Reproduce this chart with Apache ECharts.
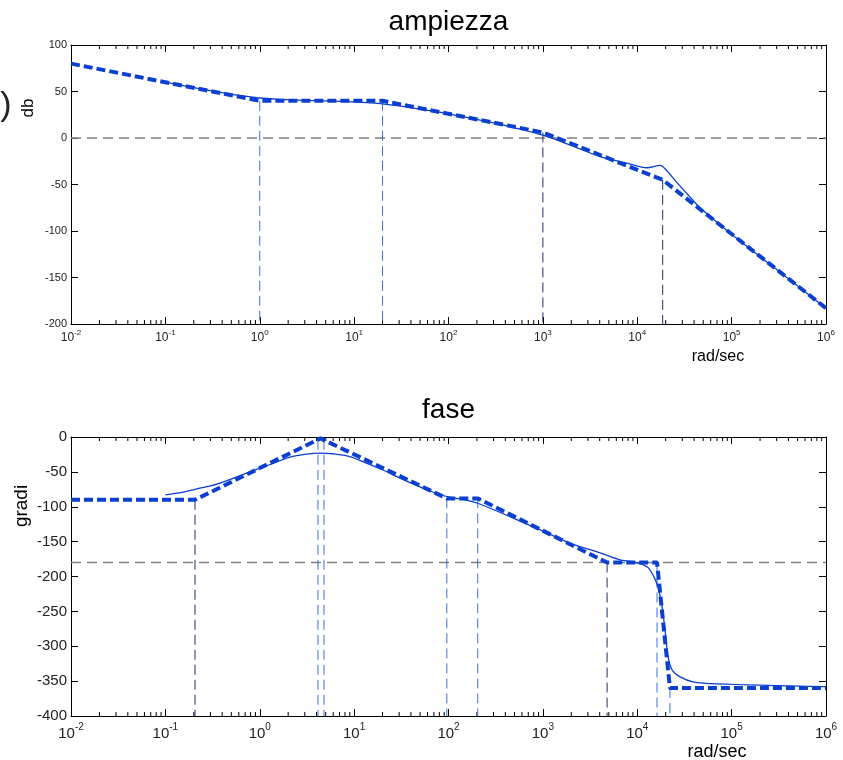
<!DOCTYPE html>
<html><head><meta charset="utf-8">
<script src="https://cdn.jsdelivr.net/npm/echarts@6/dist/echarts.min.js"></script>
<style>html,body{margin:0;padding:0;background:#fff}#c{width:843px;height:760px}</style>
</head><body><div id="c"></div>
<script>
// ---- data ----
const freqRange = [0.01, 1e6];
const magRange = [-200, 100];
const phaseRange = [-400, 0];

const magAsymW  = [0.01, 1, 20, 1000, 1.86e4, 1e6];
const magAsymDb = [80, 40, 40, 6, -45, -183];

const magW  = [0.1, 0.2, 0.5, 0.7, 1, 1.5, 3, 5, 10, 15, 20, 30, 60, 100, 300, 500, 1000, 2000, 4030, 7780, 1.27e4, 1.75e4, 1.97e4, 2.64e4, 3.89e4, 4.62e4, 1e5, 3e5, 1e6];
const magDb = [60, 54.1, 47, 45, 43, 41.8, 40.4, 40, 38.8, 37.8, 36.8, 34.5, 29.8, 26, 16.3, 11, 3, -8, -20, -27, -32, -29.5, -33, -48, -67, -75, -103.5, -141.5, -183];

const phaseAsymW   = [0.01, 0.206, 4.4, 96, 204, 4790, 1.62e4, 2.22e4, 1e6];
const phaseAsymDeg = [-90, -90, -2, -88, -88, -180, -180, -360, -360];

const phaseW   = [0.1, 0.15, 0.206, 0.3, 0.38, 0.6, 1, 1.5, 2.09, 3, 4.35, 6, 9, 15, 20, 30.6, 60, 100, 150, 204, 500, 1000, 2000, 4030, 6560, 9010, 1.27e4, 1.47e4, 1.66e4, 1.83e4, 1.97e4, 2.12e4, 2.34e4, 2.84e4, 3.9e4, 7e4, 1e6];
const phaseDeg = [-83, -79.5, -75, -70, -66, -56, -45, -36, -29, -25, -23, -24, -28, -40, -47, -59, -76, -86, -90, -95, -117, -135, -153, -166, -176, -179, -186, -198, -215, -243, -277, -315, -334, -344, -351, -354, -358];

const magGuideW  = [1, 20, 1000, 1.86e4];
const magGuideDb = [40, 40, 6, -45];
const magRef = 0;

const phaseGuideW   = [0.206, 4.14, 4.79, 96, 204, 4790, 1.62e4, 2.22e4];
const phaseGuideDeg = [-90, -4, -4, -88, -88, -180, -180, -360];
const phaseRef = -180;

// ---- styles ----
const BLUE = '#0b3fd0';
const GUIDE_LIGHT = '#3f6fe0';
const GUIDE_DARK = '#1c2e70';
const FONT = 'Liberation Sans, Arial, sans-serif';
const magDarkIdx = [2, 3];
const phaseDarkIdx = [0, 5];

const minorW = [];
for (let e = -2; e < 6; e++) for (let k = 2; k <= 9; k++) minorW.push(k * Math.pow(10, e));

function pairs(xs, ys) { return xs.map((x, i) => [x, ys[i]]); }

function xAx(gi, pos, fs, sfs, pad, margin) {
  return {
    type: 'log', logBase: 10, gridIndex: gi, position: pos,
    min: freqRange[0], max: freqRange[1], interval: 1,
    axisLine: { show: true, onZero: false, lineStyle: { color: '#000', width: 1 } },
    axisTick: { show: true, inside: true, length: 7, lineStyle: { color: '#000' } },
    axisLabel: {
      show: pos === 'bottom', margin: margin,
      formatter: v => '{b|10}{s|' + Math.round(Math.log10(v)) + '}',
      rich: {
        b: { fontSize: fs, fontFamily: FONT, color: '#222', padding: [pad, 0, 0, 0], verticalAlign: 'bottom' },
        s: { fontSize: sfs, fontFamily: FONT, color: '#222', verticalAlign: 'top' }
      }
    },
    splitLine: { show: false }
  };
}
function yAx(gi, pos, range, fs) {
  return {
    type: 'value', gridIndex: gi, position: pos, min: range[0], max: range[1], interval: 50,
    axisLine: { show: true, onZero: false, lineStyle: { color: '#000', width: 1 } },
    axisTick: { show: true, inside: true, length: 7, lineStyle: { color: '#000' } },
    axisLabel: { show: pos === 'left', margin: 4, fontSize: fs, fontFamily: FONT, color: '#222' },
    splitLine: { show: false }
  };
}

function lineSeries(xi, yi, data, style, z, smooth) {
  return { type: 'line', xAxisIndex: xi, yAxisIndex: yi, data: data, showSymbol: false, symbol: 'none',
    lineStyle: style, z: z, silent: true, animation: false, smooth: smooth || false };
}

function minorTicks(xi, yi, range) {
  return {
    type: 'custom', xAxisIndex: xi, yAxisIndex: yi, silent: true, animation: false, z: 1,
    data: minorW.map(w => [w, range[0]]),
    renderItem: function (params, api) {
      const v = api.value(0);
      const b = api.coord([v, range[0]]);
      const t = api.coord([v, range[1]]);
      const st = { stroke: '#000', lineWidth: 1 };
      return { type: 'group', children: [
        { type: 'line', shape: { x1: b[0], y1: b[1], x2: b[0], y2: b[1] - 4 }, style: st },
        { type: 'line', shape: { x1: t[0], y1: t[1], x2: t[0], y2: t[1] + 4 }, style: st }
      ] };
    }
  };
}

const series = [];
series.push(lineSeries(0, 0, [[freqRange[0], magRef], [freqRange[1], magRef]], { color: '#808080', width: 1.5, type: [10, 6] }, 1));
magGuideW.forEach((w, i) => {
  series.push(lineSeries(0, 0, [[w, magGuideDb[i]], [w, magRange[0]]],
    { color: magDarkIdx.includes(i) ? GUIDE_DARK : GUIDE_LIGHT, width: 1, type: [10, 5] }, 2));
});
series.push(lineSeries(0, 0, pairs(magW, magDb), { color: BLUE, width: 1.3 }, 3, 0.3));
series.push(lineSeries(0, 0, pairs(magAsymW, magAsymDb), { color: BLUE, width: 4, type: [9, 4] }, 4));
series.push(minorTicks(0, 0, magRange));

series.push(lineSeries(2, 2, [[freqRange[0], phaseRef], [freqRange[1], phaseRef]], { color: '#808080', width: 1.5, type: [10, 6] }, 1));
phaseGuideW.forEach((w, i) => {
  series.push(lineSeries(2, 2, [[w, phaseGuideDeg[i]], [w, phaseRange[0]]],
    { color: phaseDarkIdx.includes(i) ? GUIDE_DARK : GUIDE_LIGHT, width: 1, type: [10, 5] }, 2));
});
series.push(lineSeries(2, 2, pairs(phaseW, phaseDeg), { color: BLUE, width: 1.3 }, 3, 0.3));
series.push(lineSeries(2, 2, pairs(phaseAsymW, phaseAsymDeg), { color: BLUE, width: 4, type: [9, 4] }, 4));
series.push(minorTicks(2, 2, phaseRange));

const chart = echarts.init(document.getElementById('c'), null, { renderer: 'canvas' });
chart.setOption({
  animation: false,
  backgroundColor: '#fff',
  grid: [
    { left: 71, top: 45, width: 755, height: 279 },
    { left: 71, top: 437, width: 755, height: 279 }
  ],
  xAxis: [
    xAx(0, 'bottom', 12, 8, 3, 5), xAx(0, 'top', 12, 8, 3, 5),
    xAx(1, 'bottom', 15, 10, 4, 6), xAx(1, 'top', 15, 10, 4, 6)
  ],
  yAxis: [
    yAx(0, 'left', magRange, 11), yAx(0, 'right', magRange, 11),
    yAx(1, 'left', phaseRange, 15), yAx(1, 'right', phaseRange, 15)
  ],
  graphic: [
    { type: 'text', x: 448.5, y: 22, style: { text: 'ampiezza', font: '28px ' + FONT, fill: '#000', align: 'center', verticalAlign: 'middle' } },
    { type: 'text', x: 448.5, y: 410, style: { text: 'fase', font: '28px ' + FONT, fill: '#000', align: 'center', verticalAlign: 'middle' } },
    { type: 'text', x: 28, y: 108, rotation: Math.PI / 2, style: { text: 'db', font: '17px ' + FONT, fill: '#000', align: 'center', verticalAlign: 'middle' } },
    { type: 'text', x: 22, y: 506, rotation: Math.PI / 2, style: { text: 'gradi', font: '19px ' + FONT, fill: '#000', align: 'center', verticalAlign: 'middle' } },
    { type: 'text', x: 6, y: 106, style: { text: ')', font: '34px ' + FONT, fill: '#222', align: 'center', verticalAlign: 'middle' } },
    { type: 'text', x: 718, y: 357, style: { text: 'rad/sec', font: '16px ' + FONT, fill: '#000', align: 'center', verticalAlign: 'middle' } },
    { type: 'text', x: 717, y: 752, style: { text: 'rad/sec', font: '18px ' + FONT, fill: '#000', align: 'center', verticalAlign: 'middle' } }
  ],
  series: series
});
</script>
</body></html>
